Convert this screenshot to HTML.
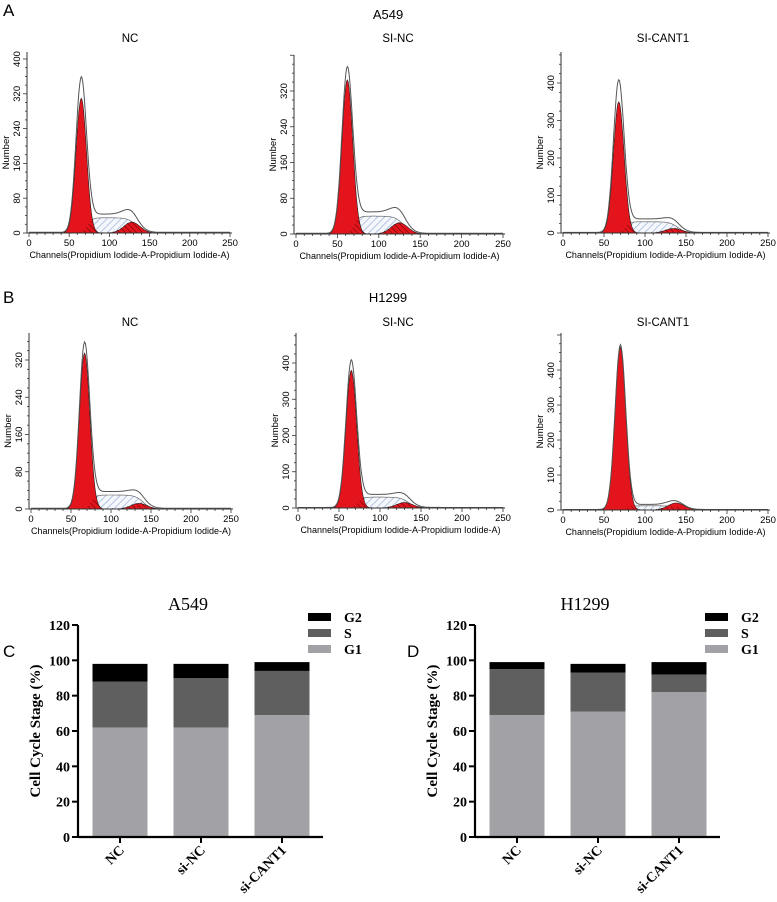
<!DOCTYPE html>
<html><head><meta charset="utf-8"><style>
html,body{margin:0;padding:0;background:#fff;}
svg{display:block;font-family:"Liberation Sans",sans-serif;}
.serif{font-family:"Liberation Serif",serif;font-weight:bold;}
</style></head><body>
<svg id="fig" width="777" height="902" viewBox="0 0 777 902" xmlns="http://www.w3.org/2000/svg">
<defs>
<pattern id="hatchBlue" width="5" height="5" patternUnits="userSpaceOnUse" patternTransform="rotate(45)"><rect width="5" height="5" fill="#f4f7fc"/><line x1="0" y1="0" x2="0" y2="5" stroke="#8fa6cf" stroke-width="1.2"/></pattern>
<pattern id="hatchDark" width="4" height="4" patternUnits="userSpaceOnUse" patternTransform="rotate(-45)"><line x1="0" y1="0" x2="0" y2="4" stroke="#300" stroke-width="0.8"/></pattern>
</defs>
<text x="3" y="16" font-size="17">A</text>
<text x="388" y="19" font-size="13" text-anchor="middle">A549</text>
<text x="3" y="303" font-size="17">B</text>
<text x="388" y="302" font-size="13" text-anchor="middle">H1299</text>
<text x="3" y="657" font-size="17">C</text>
<text x="407" y="657" font-size="17">D</text>
<g id="hists"></g>
<g id="bars"></g>
</svg>
<script>
// Histogram panel data (channel / count values)
const histTitles = ["NC","SI-NC","SI-CANT1","NC","SI-NC","SI-CANT1"];
const histYMax = [400,320,400,320,400,400];
const histYStep = [80,80,100,80,100,100];
const g1Mean = [65,62,68,67,65,70];
const g1Height = [310,345,350,335,380,465];
const g1Peak = [355,370,405,355,405,470];
const sLevel = [35,40,30,30,30,12];
const g2Mean = [128,125,135,135,130,138];
const g2Height = [25,25,12,12,15,20];
// Bar chart data
const barCategories = ["NC","si-NC","si-CANT1"];
const a549G1 = [62,62,69];
const a549S = [26,28,25];
const a549G2 = [10,8,5];
const h1299G1 = [69,71,82];
const h1299S = [26,22,10];
const h1299G2 = [4,5,7];
const barTicks = [0,20,40,60,80,100,120];

const NS="http://www.w3.org/2000/svg";
function mk(tag,attrs,parent){const e=document.createElementNS(NS,tag);for(const k in attrs)e.setAttribute(k,attrs[k]);parent.appendChild(e);return e;}

const panelGeom=[
 {x0:29,x1:230,y0:233,yTopVal:59,top:52,tx:130,ty:42},
 {x0:296,x1:503,y0:234,yTopVal:91,top:55,tx:398,ty:42},
 {x0:563,x1:768,y0:233,yTopVal:83,top:52,tx:663,ty:42},
 {x0:31,x1:231,y0:509,yTopVal:360,top:333,tx:130,ty:326},
 {x0:298,x1:503,y0:508,yTopVal:363,top:333,tx:398,ty:326},
 {x0:563,x1:768,y0:510,yTopVal:370,top:333,tx:663,ty:326}
];
const refVal=[400,320,400,320,400,400];
const hg=document.getElementById('hists');
histTitles.forEach((t,i)=>{
  const p=panelGeom[i];
  const g=mk('g',{},hg);
  
  
  const fx=c=>p.x0+(p.x1-p.x0)*c/250;
  const sc=(p.y0-p.yTopVal)/refVal[i];
  const fy=v=>p.y0-v*sc;
  const tt=mk('text',{x:p.tx,y:p.ty,'font-size':11.5,'text-anchor':'middle'},g);tt.textContent=t;
  
  
  const sg=6.5, sg2=10;
  const G1=c=>g1Height[i]*Math.exp(-((c-g1Mean[i])**2)/(2*sg*sg));
  const G2=c=>g2Height[i]*Math.exp(-((c-g2Mean[i])**2)/(2*sg2*sg2));
  const S=c=>{const a=1/(1+Math.exp(-(c-g1Mean[i]-8)/3)), b=1/(1+Math.exp((c-g2Mean[i]-5)/5));return sLevel[i]*a*b;};
  const cs=[];for(let c=0;c<=250;c+=1)cs.push(c);
  const area=(fn)=>{let d='M'+fx(0)+','+fy(0);cs.forEach(c=>{d+=' L'+fx(c).toFixed(1)+','+fy(fn(c)).toFixed(1);});d+=' L'+fx(250)+','+fy(0)+'Z';return d;};
  const sp=mk('path',{d:area(S),fill:'url(#hatchBlue)',stroke:'#555','stroke-width':0.6},g);
  
  const r1=mk('path',{d:area(G1),fill:'#e3141b',stroke:'#222','stroke-width':0.6},g);
  
  const r2=mk('path',{d:area(G2),fill:'#e3141b',stroke:'#222','stroke-width':0.6},g);
  
  const hd=mk('path',{d:area(c=>Math.min(S(c),G1(c)+G2(c)+2)),fill:'url(#hatchDark)',stroke:'none'},g);
  
  const tot=c=>G1(c)*g1Peak[i]/g1Height[i]+S(c)*1.2+G2(c)*0.7+1.5;
  let d='';cs.forEach((c,k)=>{d+=(k?' L':'M')+fx(c).toFixed(1)+','+fy(tot(c)).toFixed(1);});
  const ol=mk('path',{d:d,fill:'none',stroke:'#555','stroke-width':1},g);
  
  mk('line',{x1:p.x0-2,y1:p.y0,x2:p.x1+2,y2:p.y0,stroke:'#333','stroke-width':1},g);
  mk('line',{x1:p.x0-2,y1:p.y0,x2:p.x0-2,y2:p.top,stroke:'#333','stroke-width':1},g);
  for(let c=0;c<=250;c+=10){const big=c%50==0;mk('line',{x1:fx(c),y1:p.y0,x2:fx(c),y2:p.y0+(big?4:2),stroke:'#333','stroke-width':0.8},g);
    if(big){const tl=mk('text',{x:fx(c),y:p.y0+13,'font-size':9.5,'text-anchor':'middle'},g);tl.textContent=c;}}
  const xt=mk('text',{x:(p.x0+p.x1)/2,y:p.y0+25,'font-size':9,'text-anchor':'middle'},g);
  xt.textContent='Channels(Propidium Iodide-A-Propidium Iodide-A)';
  
  const step=histYStep[i];
  for(let v=0;fy(v)>=p.top;v+=step/4){const big=Math.abs(v%step)<1e-6;const yy=fy(v);
    mk('line',{x1:p.x0-2,y1:yy,x2:p.x0-(big?6:4),y2:yy,stroke:'#333','stroke-width':0.8},g);
    if(big && yy>=p.top+3){const tl=mk('text',{x:p.x0-9,y:yy,'font-size':9.5,'text-anchor':'middle',transform:'rotate(-90 '+(p.x0-9)+' '+yy+')'},g);tl.textContent=v;}}
  const yl=mk('text',{x:p.x0-20,y:(p.y0+p.top)/2+10,'font-size':9.5,'text-anchor':'middle',transform:'rotate(-90 '+(p.x0-20)+' '+((p.y0+p.top)/2+10)+')'},g);
  yl.textContent='Number';
  
});

const bg=document.getElementById('bars');
function barChart(ox,title,G1,S,G2,name){
  const g=mk('g',{},bg);
  
  
  const ax=78+ox, ax2=323+ox, y0=837, yTop=625;
  const fy=v=>y0-(y0-yTop)*v/120;
  const cx=k=>ax+42+k*81;
  const tt=mk('text',{x:ox+188,y:610,'font-size':18,'text-anchor':'middle','font-family':'Liberation Serif, serif'},g);tt.textContent=title;
  
  const cols=['#a2a2a6','#5f5f5f','#000'];
  barCategories.forEach((c,k)=>{
    const segs=[G1[k],S[k],G2[k]];let base=0;
    segs.forEach((v,j)=>{const r=mk('rect',{x:cx(k)-27.5,y:fy(base+v),width:55,height:fy(base)-fy(base+v),fill:cols[j]},g);
      
      
      base+=v;});
    mk('line',{x1:cx(k),y1:y0,x2:cx(k),y2:y0+6,stroke:'#000','stroke-width':2},g);
    const tx=cx(k)+5, ty=y0+14;
    const tl=mk('text',{x:tx,y:ty,'font-size':14,'text-anchor':'end',class:'serif',transform:'rotate(-45 '+tx+' '+ty+')'},g);tl.textContent=c;
    
  });
  mk('line',{x1:ax,y1:y0,x2:ax2,y2:y0,stroke:'#000','stroke-width':2.2},g);
  mk('line',{x1:ax,y1:y0+1,x2:ax,y2:yTop,stroke:'#000','stroke-width':2.2},g);
  barTicks.forEach(v=>{mk('line',{x1:ax,y1:fy(v),x2:ax-6,y2:fy(v),stroke:'#000','stroke-width':2},g);
    const tl=mk('text',{x:ax-8,y:fy(v)+5,'font-size':14,'text-anchor':'end',class:'serif'},g);tl.textContent=v;});
  const yl=mk('text',{x:ox+40,y:731,'font-size':15,'text-anchor':'middle',class:'serif',transform:'rotate(-90 '+(ox+40)+' 731)'},g);
  yl.textContent='Cell Cycle Stage (%)';
  
  const leg=[['G2','#000',617],['S','#5f5f5f',633],['G1','#a2a2a6',649]];
  leg.forEach(([n,c,y])=>{const lg=mk('g',{},g);
    
    mk('rect',{x:ox+308,y:y-4,width:23,height:8,fill:c},lg);
    const t=mk('text',{x:ox+344,y:y+5,'font-size':14,class:'serif'},lg);t.textContent=n;});
}
barChart(0,'A549',a549G1,a549S,a549G2,'a549-bar-chart');
barChart(397,'H1299',h1299G1,h1299S,h1299G2,'h1299-bar-chart');
</script>
</body></html>
